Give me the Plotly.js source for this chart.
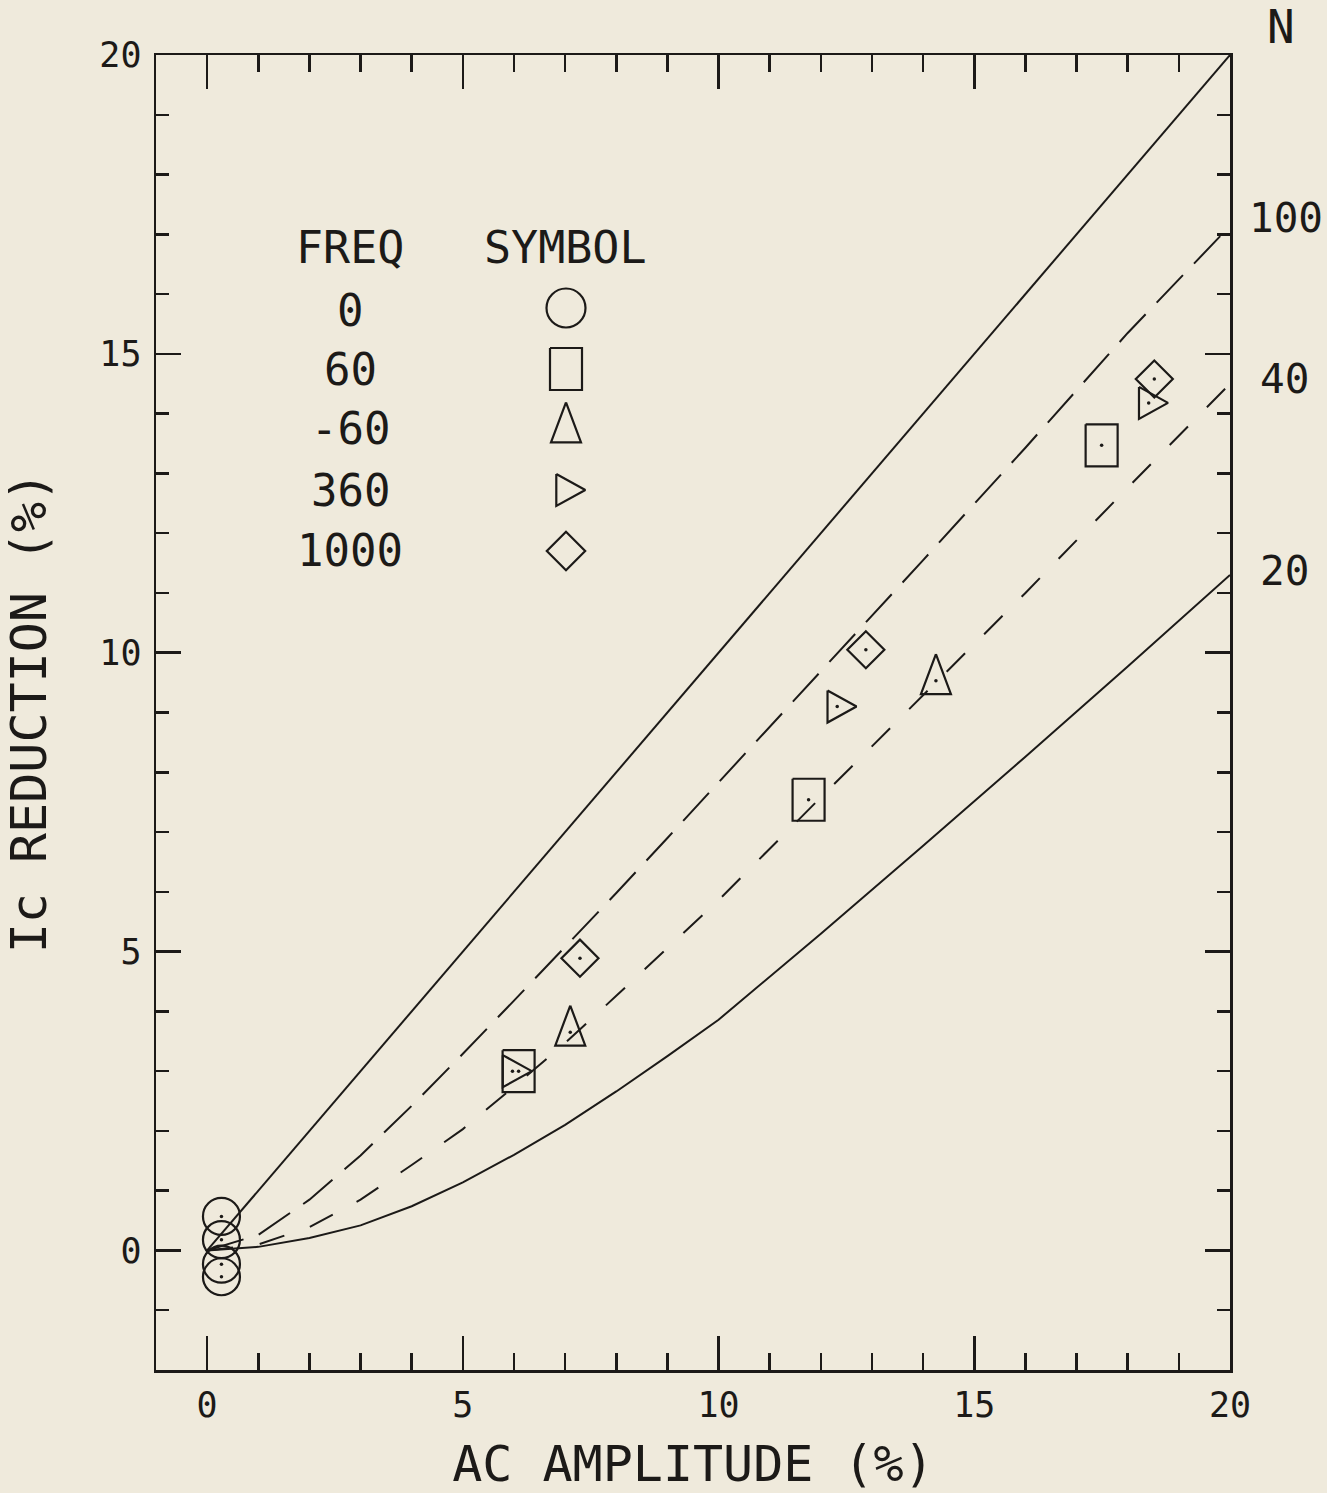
<!DOCTYPE html>
<html>
<head>
<meta charset="utf-8">
<script src="https://cdn.plot.ly/plotly-3.0.1.min.js"></script>
<style>
  html, body { margin: 0; padding: 0; background: #efeadc; }
  #chart { width: 1327px; height: 1493px; }
</style>
</head>
<body>
<div id="chart"></div>
<script>
// ---- Model curves: Ic reduction (%) vs AC amplitude (%) ----
const curveX = [0, 1, 2, 3, 4, 5, 6, 7, 8, 9, 10, 12, 14, 16, 18, 20];
const limitX = [0, 5, 10, 15, 20];
const limitY = [0, 5, 10, 15, 20];                       // upper solid bound
const n100Y  = [0, 0.26, 0.85, 1.59, 2.42, 3.29, 4.18, 5.08, 5.98, 6.9, 7.83, 9.69, 11.55, 13.43, 15.35, 17.14];
const n40Y   = [0, 0.10, 0.39, 0.85, 1.43, 2.03, 2.74, 3.47, 4.26, 5.06, 5.86, 7.58, 9.29, 11.0, 12.76, 14.5];
const n20Y   = [0, 0.06, 0.21, 0.42, 0.74, 1.14, 1.60, 2.10, 2.66, 3.25, 3.86, 5.30, 6.77, 8.26, 9.77, 11.3];
const curveLabels = ['100', '40', '20'];

// ---- Measurements by frequency ----
const f0X    = [0.28, 0.28, 0.28, 0.28];
const f0Y    = [0.57, 0.18, -0.23, -0.44];
const f60X   = [6.09, 11.76, 17.49];
const f60Y   = [3.00, 7.54, 13.47];
const fm60X  = [7.10, 14.25];
const fm60Y  = [3.65, 9.53];
const f360X  = [5.97, 12.32, 18.41];
const f360Y  = [3.00, 9.10, 14.18];
const f1000X = [7.29, 12.88, 18.52];
const f1000Y = [4.89, 10.05, 14.58];
const freqLabels = ['0', '60', '-60', '360', '1000'];

// ---- Tick labels ----
const xTickVals = [0, 5, 10, 15, 20];
const xTickText = ['0', '5', '10', '15', '20'];
const yTickVals = [0, 5, 10, 15, 20];
const yTickText = ['0', '5', '10', '15', '20'];

// ---- Page geometry ----
const W = 1327, H = 1493;
const M = { l: 156, r: 97, t: 55, b: 123 };
const PW = W - M.l - M.r, PH = H - M.t - M.b;
const X_RANGE = [-1, 20], Y_RANGE = [-2, 20];
const DX = (X_RANGE[1] - X_RANGE[0]) / PW;   // data units per pixel
const DY = (Y_RANGE[1] - Y_RANGE[0]) / PH;

const INK = '#1c1a18';
const MONO = 'DejaVu Sans Mono, monospace';

// marker outlines in pixel offsets (y grows downward)
const RECT      = [[-16, -21], [16, -21], [16, 21], [-16, 21], [-16, -21]];
const TRI_UP    = [[0, -26.7], [15, 13.3], [-15, 13.3], [0, -26.7]];
const TRI_RIGHT = [[-9.7, -16], [19.3, 0], [-9.7, 16], [-9.7, -16]];

function outline(xs, ys, verts) {
  const ox = [], oy = [];
  for (let i = 0; i < xs.length; i++) {
    for (const [px, py] of verts) {
      ox.push(xs[i] + px * DX);
      oy.push(ys[i] - py * DY);
    }
    ox.push(null); oy.push(null);
  }
  return { ox, oy };
}
const pxToDataX = px => X_RANGE[0] + (px - M.l) * DX;
const pxToDataY = py => Y_RANGE[1] - (py - M.t) * DY;
const pxToPaperX = px => (px - M.l) / PW;
const pxToPaperY = py => 1 - (py - M.t) / PH;

function curve(x, y, dash) {
  return { x, y, type: 'scatter', mode: 'lines', hoverinfo: 'skip',
           line: { color: INK, width: 2, dash } };
}
function polyTrace(xs, ys, verts) {
  const o = outline(xs, ys, verts);
  return { x: o.ox, y: o.oy, type: 'scatter', mode: 'lines', connectgaps: false,
           line: { color: INK, width: 2.2 }, hoverinfo: 'skip' };
}
function markerTrace(xs, ys, symbol, size) {
  return { x: xs, y: ys, type: 'scatter', mode: 'markers', hoverinfo: 'skip',
           marker: { symbol, size, color: INK, line: { color: INK, width: 2.2 } } };
}

// legend key positions
const keyX = pxToDataX(566);
const keyRows = [308, 369, 429, 490, 551].map(pxToDataY);

const allX = [].concat(f0X, f60X, fm60X, f360X, f1000X);
const allY = [].concat(f0Y, f60Y, fm60Y, f360Y, f1000Y);

const traces = [
  curve(limitX, limitY, 'solid'),
  curve(curveX, n100Y, '38px,16px'),
  curve(curveX, n40Y, '26px,27px'),
  curve(curveX, n20Y, 'solid'),

  markerTrace(f0X, f0Y, 'circle-open', 37),
  polyTrace(f60X, f60Y, RECT),
  polyTrace(fm60X, fm60Y, TRI_UP),
  polyTrace(f360X, f360Y, TRI_RIGHT),
  markerTrace(f1000X, f1000Y, 'diamond-open', 28.5),
  // centre dots of every measurement
  { x: allX, y: allY, type: 'scatter', mode: 'markers', hoverinfo: 'skip',
    marker: { symbol: 'circle', size: 3.5, color: INK } },

  // key symbols
  markerTrace([keyX], [keyRows[0]], 'circle-open', 39),
  polyTrace([keyX], [keyRows[1]], RECT),
  polyTrace([keyX], [keyRows[2]], TRI_UP),
  polyTrace([keyX], [keyRows[3]], TRI_RIGHT),
  markerTrace([keyX], [keyRows[4]], 'diamond-open', 29.5)
];

const annotations = [];
function addText(text, px, py, size) {
  annotations.push({ text, xref: 'paper', yref: 'paper', x: pxToPaperX(px), y: pxToPaperY(py),
                     xanchor: 'center', yanchor: 'middle', showarrow: false,
                     font: { family: MONO, size, color: INK } });
}
addText('FREQ', 350, 248, 45);
addText('SYMBOL', 565, 248, 45);
[310, 369, 428, 490, 550].forEach((py, i) => addText(freqLabels[i], 350, py, 44));
addText('N', 1281, 27, 46);
[[1286, 218], [1284, 379], [1284, 571]].forEach(([px, py], i) => addText(curveLabels[i], px, py, 41));

const axisCommon = {
  tickmode: 'array', ticks: 'inside', tickwidth: 2.5, tickcolor: INK,
  showline: true, linewidth: 2.5, linecolor: INK, mirror: 'ticks',
  showgrid: false, zeroline: false,
  tickfont: { family: MONO, size: 35, color: INK }
};

const layout = {
  width: W, height: H,
  margin: M,
  paper_bgcolor: '#efeadc', plot_bgcolor: '#efeadc',
  showlegend: false,
  xaxis: Object.assign({}, axisCommon, {
    range: X_RANGE, tickvals: xTickVals, ticktext: xTickText, ticklen: 34,
    ticklabelstandoff: 2,
    minor: { tickmode: 'linear', tick0: 0, dtick: 1, ticks: 'inside', ticklen: 17,
             tickwidth: 2.5, tickcolor: INK, showgrid: false },
    title: { text: 'AC AMPLITUDE (%)', font: { family: MONO, size: 50, color: INK }, standoff: 32 }
  }),
  yaxis: Object.assign({}, axisCommon, {
    range: Y_RANGE, tickvals: yTickVals, ticktext: yTickText, ticklen: 25,
    ticklabelstandoff: 5,
    minor: { tickmode: 'linear', tick0: 0, dtick: 1, ticks: 'inside', ticklen: 13,
             tickwidth: 2.5, tickcolor: INK, showgrid: false },
    title: { text: 'Ic REDUCTION (%)', font: { family: MONO, size: 50, color: INK }, standoff: 47 }
  }),
  annotations
};

Plotly.newPlot('chart', traces, layout, { displayModeBar: false, staticPlot: true });
</script>
</body>
</html>
